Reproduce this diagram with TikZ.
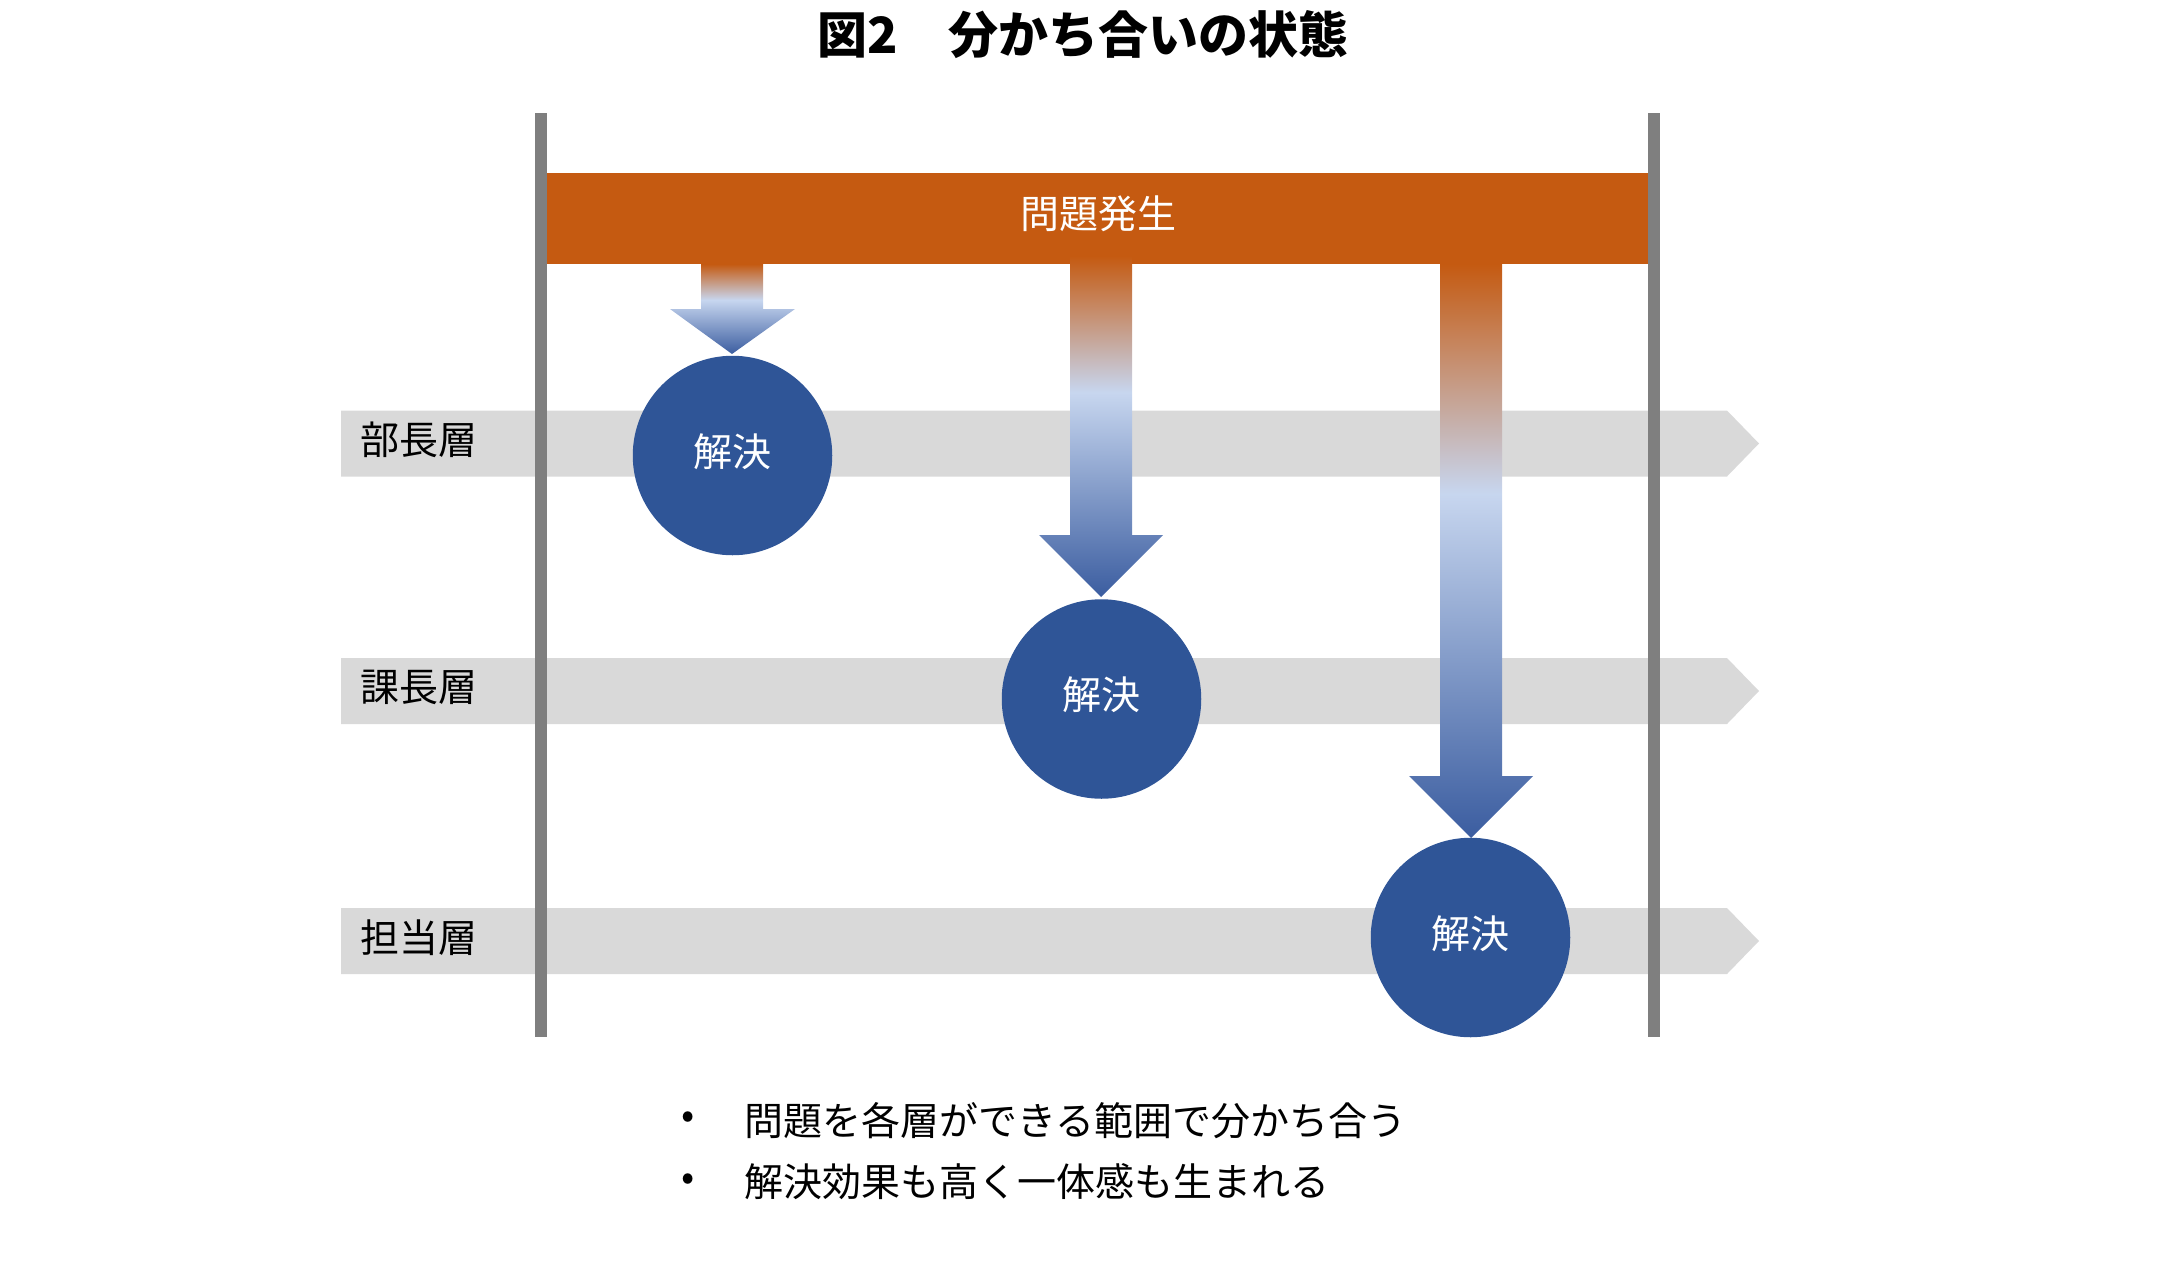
\documentclass[tikz,border=0pt]{standalone}
\usepackage{fontspec}
\setmainfont{Noto Sans CJK JP}
\definecolor{orangebar}{HTML}{C55A11}
\definecolor{bandgray}{HTML}{D9D9D9}
\definecolor{postgray}{HTML}{7F7F7F}
\definecolor{solveblue}{HTML}{2F5597}
\definecolor{abot}{HTML}{3B5DA0}
\definecolor{amid}{HTML}{C7D6EF}
\definecolor{atop}{HTML}{C55A11}
\pgfdeclareverticalshading{arrsh}{100bp}{color(0bp)=(abot); color(25bp)=(abot); color(55bp)=(amid); color(75bp)=(atop); color(100bp)=(atop)}
\begin{document}
\begin{tikzpicture}[x=0.5pt,y=-0.5pt,
  band/.style={fill=bandgray},
  post/.style={fill=postgray},
  lbl/.style={font=\fontsize{19.5}{22}\selectfont, text=black, anchor=west, inner sep=0pt},
  solve/.style={circle, fill=solveblue, minimum size=99.75pt, inner sep=0pt},
  solvetext/.style={text=white, font=\fontsize{19.5}{22}\selectfont, inner sep=0pt},
  downarrow/.style={shading=arrsh},
  bullet/.style={font=\fontsize{19.5}{22}\selectfont, anchor=west, inner sep=0pt}]
\useasboundingbox (0,0) rectangle (2160,1270);
% title
\node[font=\fontsize{25}{30}\selectfont\bfseries, inner sep=0pt] (title) at (1083,35) {図2　分かち合いの状態};
% bands
\foreach \ya/\yb in {410.5/476.5, 658/724, 908/974}{
  \fill[band] (341,\ya) -- (1727,\ya) -- (1759,{(\ya+\yb)/2}) -- (1727,\yb) -- (341,\yb) -- cycle;
}
\node[lbl] (l1) at (360,440) {部長層};
\node[lbl] (l2) at (360,687.5) {課長層};
\node[lbl] (l3) at (360,937.5) {担当層};
% posts
\fill[post] (535,113) rectangle (547,1037);
\fill[post] (1648,113) rectangle (1660,1037);
% problem bar
\fill[orangebar] (547,173) rectangle (1648,264);
\node[text=white, font=\fontsize{19.5}{22}\selectfont, inner sep=0pt] (prob) at (1098,214) {問題発生};
% arrows
\path[downarrow] (701,264) -- (763,264) -- (763,309) -- (795,309) -- (732,354) -- (670,309) -- (701,309) -- cycle;
\path[downarrow] (1070,256) -- (1132,256) -- (1132,535) -- (1163,535) -- (1101,597) -- (1039,535) -- (1070,535) -- cycle;
\path[downarrow] (1440,264) -- (1502,264) -- (1502,776) -- (1533,776) -- (1471,838) -- (1409,776) -- (1440,776) -- cycle;
% solutions
\node[solve] (s1) at (732.5,455.5) {};
\node[solve] (s2) at (1101.5,699) {};
\node[solve] (s3) at (1470.5,937.5) {};
\node[solvetext] (s1t) at ([yshift=2pt]s1.center) {解決};
\node[solvetext] (s2t) at ([yshift=2pt]s2.center) {解決};
\node[solvetext] (s3t) at ([yshift=2pt]s3.center) {解決};
% bullets
\node[font=\fontsize{19.5}{22}\selectfont, inner sep=0pt] (d1) at (688,1120.5) {•};
\node[bullet] (t1) at (744,1120.5) {問題を各層ができる範囲で分かち合う};
\node[font=\fontsize{19.5}{22}\selectfont, inner sep=0pt] (d2) at (688,1182) {•};
\node[bullet] (t2) at (744,1182) {解決効果も高く一体感も生まれる};
\end{tikzpicture}
\end{document}
